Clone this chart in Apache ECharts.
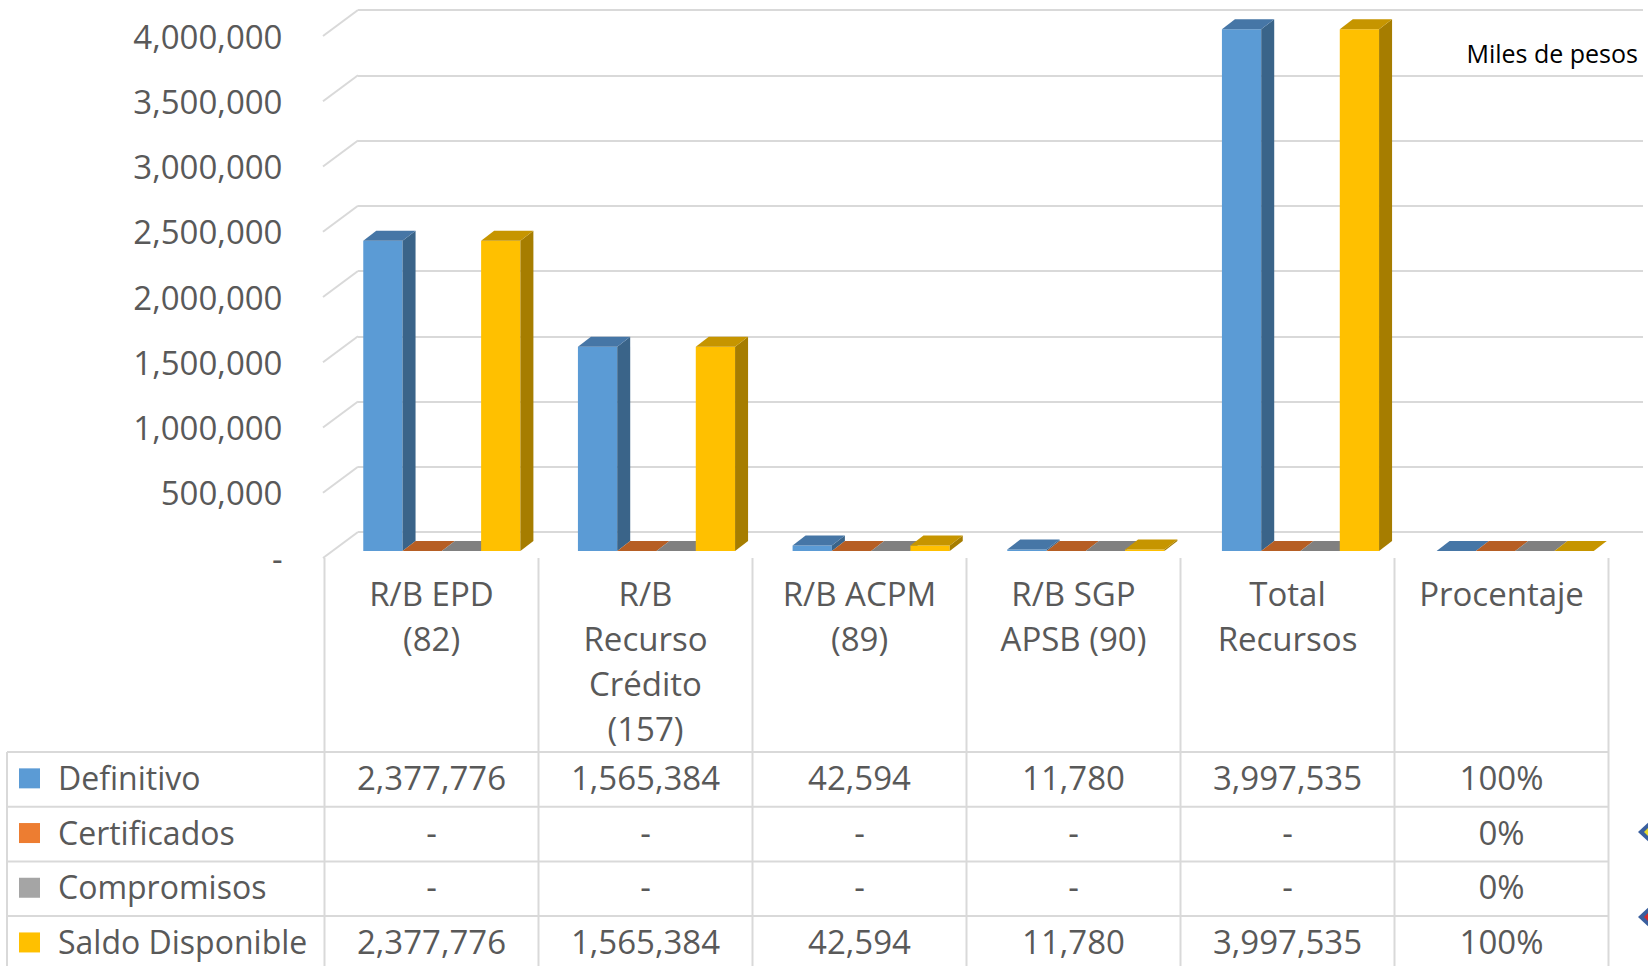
<!DOCTYPE html>
<html><head><meta charset="utf-8">
<script src="https://cdn.jsdelivr.net/npm/echarts@6/dist/echarts.min.js"></script>
<style>html,body{margin:0;padding:0;background:#fff}#c{width:1648px;height:966px}</style>
</head><body><div id="c"></div>
<script>
// ---------- data ----------
const categories = ['R/B EPD\n(82)', 'R/B\nRecurso\nCrédito\n(157)', 'R/B ACPM\n(89)', 'R/B SGP\nAPSB (90)', 'Total\nRecursos', 'Procentaje'];
const seriesNames = ['Definitivo', 'Certificados', 'Compromisos', 'Saldo Disponible'];
const definitivo      = [2377776, 1565384, 42594, 11780, 3997535, 1];
const certificados    = [0, 0, 0, 0, 0, 0];
const compromisos     = [0, 0, 0, 0, 0, 0];
const saldoDisponible = [2377776, 1565384, 42594, 11780, 3997535, 1];
const percentCategory = 'Procentaje';
const yTicks = [0, 500000, 1000000, 1500000, 2000000, 2500000, 3000000, 3500000, 4000000];
const unitLabel = 'Miles de pesos';

// ---------- styling / layout ----------
const FONT = '"Open Sans", "Noto Sans", sans-serif';
const FS = 33;
const TEXT = '#595959';
const GRIDC = '#D9D9D9';
const seriesValues = [definitivo, certificados, compromisos, saldoDisponible];
const palette = [
  {key: '#5B9BD5', front: '#5B9BD5', top: '#4676A6', side: '#3A6489'},
  {key: '#ED7D31', front: '#ED7D31', top: '#B65E24', side: '#9C4F1E'},
  {key: '#A5A5A5', front: '#A5A5A5', top: '#808080', side: '#6B6B6B'},
  {key: '#FFC000', front: '#FFC000', top: '#C69500', side: '#A67D00'}
];
const FRONT = {left: 324.5, top: 36, width: 1284, height: 522};
const BACK  = {left: 358, top: 10, width: 1285, height: 522};
const BARP  = {left: 334.5, top: 29, width: 1288, height: 522};
const WALL_DX = 35, WALL_DY = 26;
const BAR_DX = 13, BAR_DY = 10, BAR_FRAC = 0.183;

const yMin = yTicks[0], yMax = yTicks[yTicks.length - 1], yStep = yTicks[1] - yTicks[0];

function fmtNum(v) { return v === 0 ? '-' : v.toLocaleString('en-US'); }
function fmtCell(v, i) {
  if (categories[i] === percentCategory) return Math.round(v * 100) + '%';
  return fmtNum(v);
}

function barRender(sIdx) {
  return function (params, api) {
    const c = api.value(0), v = api.value(1);
    const base = api.coord([c, 0]);
    const top = api.coord([c, v]);
    const band = api.size([1, 0])[0];
    const w = band * BAR_FRAC;
    const x0 = base[0] - 2 * w + sIdx * w;
    const x1 = x0 + w;
    const yb = base[1], yt = top[1];
    const col = palette[sIdx];
    const children = [];
    if (yb - yt > 0.3) {
      children.push({type: 'rect', shape: {x: x0, y: yt, width: w, height: yb - yt}, style: {fill: col.front}});
      children.push({type: 'polygon', shape: {points: [[x1, yt], [x1 + BAR_DX, yt - BAR_DY], [x1 + BAR_DX, yb - BAR_DY], [x1, yb]]}, style: {fill: col.side}});
    }
    children.push({type: 'polygon', shape: {points: [[x0, yt], [x1, yt], [x1 + BAR_DX, yt - BAR_DY], [x0 + BAR_DX, yt - BAR_DY]]}, style: {fill: col.top}});
    return {type: 'group', children: children};
  };
}

const chart = echarts.init(document.getElementById('c'), null, {renderer: 'svg'});

const yBase = {type: 'value', min: yMin, max: yMax, interval: yStep};

const series = [];
// diagonal wall lines for each tick
series.push({
  type: 'custom', xAxisIndex: 0, yAxisIndex: 0, silent: true,
  data: yTicks.map(t => [0, t]),
  renderItem: function (params, api) {
    const p = api.coord([0, api.value(1)]);
    const x = params.coordSys.x;
    return {type: 'line', shape: {x1: x, y1: p[1], x2: x - WALL_DX, y2: p[1] + WALL_DY},
      style: {stroke: GRIDC, lineWidth: 2}};
  }
});
seriesValues.forEach((arr, s) => {
  series.push({
    type: 'custom', name: seriesNames[s], xAxisIndex: 2, yAxisIndex: 2, silent: true,
    data: arr.map((v, i) => [i, v]),
    renderItem: barRender(s)
  });
});

// ---------- table graphic ----------
const graphics = [];
const nCat = categories.length;
const band = FRONT.width / nCat;
const headerTop = FRONT.top + FRONT.height;
const rowTop = 752, rowH = 54.7, tableLeft = 7, H = 966;
const tableRight = FRONT.left + nCat * band;
for (let i = 0; i <= nCat; i++) {
  const x = FRONT.left + i * band;
  graphics.push({type: 'line', shape: {x1: x, y1: headerTop, x2: x, y2: H}, style: {stroke: GRIDC, lineWidth: 2}, silent: true});
}
graphics.push({type: 'line', shape: {x1: tableLeft, y1: rowTop, x2: tableLeft, y2: H}, style: {stroke: GRIDC, lineWidth: 2}, silent: true});
for (let r = 0; r <= seriesNames.length; r++) {
  const y = rowTop + r * rowH;
  graphics.push({type: 'line', shape: {x1: tableLeft, y1: y, x2: tableRight, y2: y}, style: {stroke: GRIDC, lineWidth: 2}, silent: true});
}
seriesNames.forEach((name, r) => {
  const cy = rowTop + r * rowH + rowH / 2;
  graphics.push({type: 'rect', shape: {x: 19, y: cy - 11, width: 21, height: 20}, style: {fill: palette[r].key}, silent: true});
  graphics.push({type: 'text', x: 58, y: cy - 2, style: {text: name, font: '32px ' + FONT, fill: TEXT, textAlign: 'left', textVerticalAlign: 'middle'}, silent: true});
  seriesValues[r].forEach((v, i) => {
    graphics.push({type: 'text', x: FRONT.left + (i + 0.5) * band, y: cy - 2,
      style: {text: fmtCell(v, i), font: FS + 'px ' + FONT, fill: TEXT, textAlign: 'center', textVerticalAlign: 'middle'}, silent: true});
  });
});
graphics.push({type: 'text', x: 1638, y: 53, style: {text: unitLabel, font: '25px ' + FONT, fill: '#000000', textAlign: 'right', textVerticalAlign: 'middle'}, silent: true});
// partial decorative diamonds at the right edge
[['#E8DC2C', 832], ['#D42A2A', 917]].forEach(d => {
  graphics.push({type: 'polygon', shape: {points: [[1638, d[1]], [1650, d[1] - 11], [1662, d[1]], [1650, d[1] + 11]]}, style: {fill: '#3A5F9E'}, silent: true});
  graphics.push({type: 'polygon', shape: {points: [[1644, d[1]], [1648, d[1] - 4], [1652, d[1]], [1648, d[1] + 4]]}, style: {fill: d[0]}, silent: true});
});

const option = {
  backgroundColor: '#ffffff',
  animation: false,
  grid: [
    {left: BACK.left, top: BACK.top, width: BACK.width, height: BACK.height},
    {left: FRONT.left, top: FRONT.top, width: FRONT.width, height: FRONT.height},
    {left: BARP.left, top: BARP.top, width: BARP.width, height: BARP.height}
  ],
  xAxis: [
    {gridIndex: 0, type: 'category', data: categories, show: false},
    {gridIndex: 1, type: 'category', data: categories,
      axisLine: {show: false}, axisTick: {show: false}, splitLine: {show: false},
      axisLabel: {interval: 0, fontSize: FS, lineHeight: 45, color: TEXT, fontFamily: FONT, margin: 13}},
    {gridIndex: 2, type: 'category', data: categories, show: false}
  ],
  yAxis: [
    Object.assign({gridIndex: 0, axisLine: {show: false}, axisTick: {show: false}, axisLabel: {show: false},
      splitLine: {show: true, lineStyle: {color: GRIDC, width: 2}}}, yBase),
    Object.assign({gridIndex: 1, axisLine: {show: false}, axisTick: {show: false}, splitLine: {show: false},
      axisLabel: {fontSize: FS, color: TEXT, fontFamily: FONT, margin: 42, formatter: v => fmtNum(v)}}, yBase),
    Object.assign({gridIndex: 2, show: false, splitLine: {show: false}}, yBase)
  ],
  series: series,
  graphic: graphics
};
chart.setOption(option);
</script>
</body></html>
